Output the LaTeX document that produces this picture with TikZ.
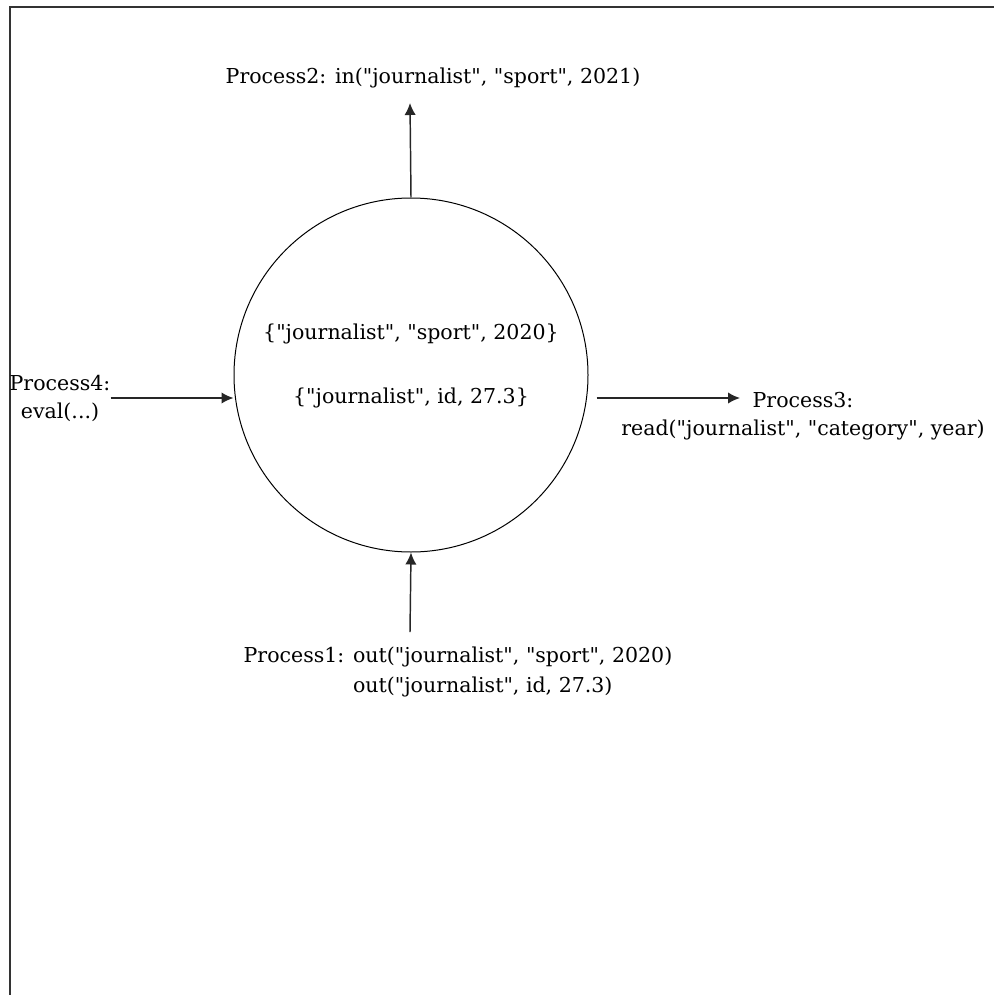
\documentclass[tikz,border=0pt]{standalone}
\usepackage{fontspec}
\setmainfont{DejaVu Serif}[Ligatures=TeXOff]
\usetikzlibrary{arrows.meta}

\begin{document}
\begin{tikzpicture}[x=.75pt,y=-.75pt,>={Latex[length=9pt,width=8.5pt]},font=\fontsize{15.4}{21}\selectfont,
 lbl/.style={inner sep=0pt,align=center},
 arr/.style={->,draw=black!85,line width=1.1pt}]
\useasboundingbox (0,0) rectangle (994,995);
\draw[draw=black!80,line width=1.5pt] (10,995)--(10,7)--(994,7);
% tuple space
\node[draw,circle,minimum size=265.5pt,line width=.75pt] (space) at (411,375) {};
\node[lbl] (tuples) at (411,366) {\{"journalist", "sport", 2020\}\\[27pt]\{"journalist", id, 27.3\}};
% processes
\node[lbl] (p2) at (433,78) {Process2: in("journalist", "sport", 2021)};
\node[lbl] (p4) at (60,398) {Process4:\\eval(...)};
\node[lbl] (p3) at (803,416) {Process3:\\read("journalist", "category", year)};
\node[lbl,align=left] (p1) at (458,672) {Process1: out("journalist", "sport", 2020)\\[1.5pt]\hphantom{Process1: }out("journalist", id, 27.3)};
\coordinate (p2in) at (410,103);
\coordinate (p3in) at (740,398);
\coordinate (p1out) at (410,632);
\draw[arr] (space.north)--(p2in);
\draw[arr] (p4.east)--(p4.east -| space.west);
\draw[arr] ([xshift=6pt]space.east |- p3in)--(p3in);
\draw[arr] (p1out)--(space.south);
\end{tikzpicture}
\end{document}
